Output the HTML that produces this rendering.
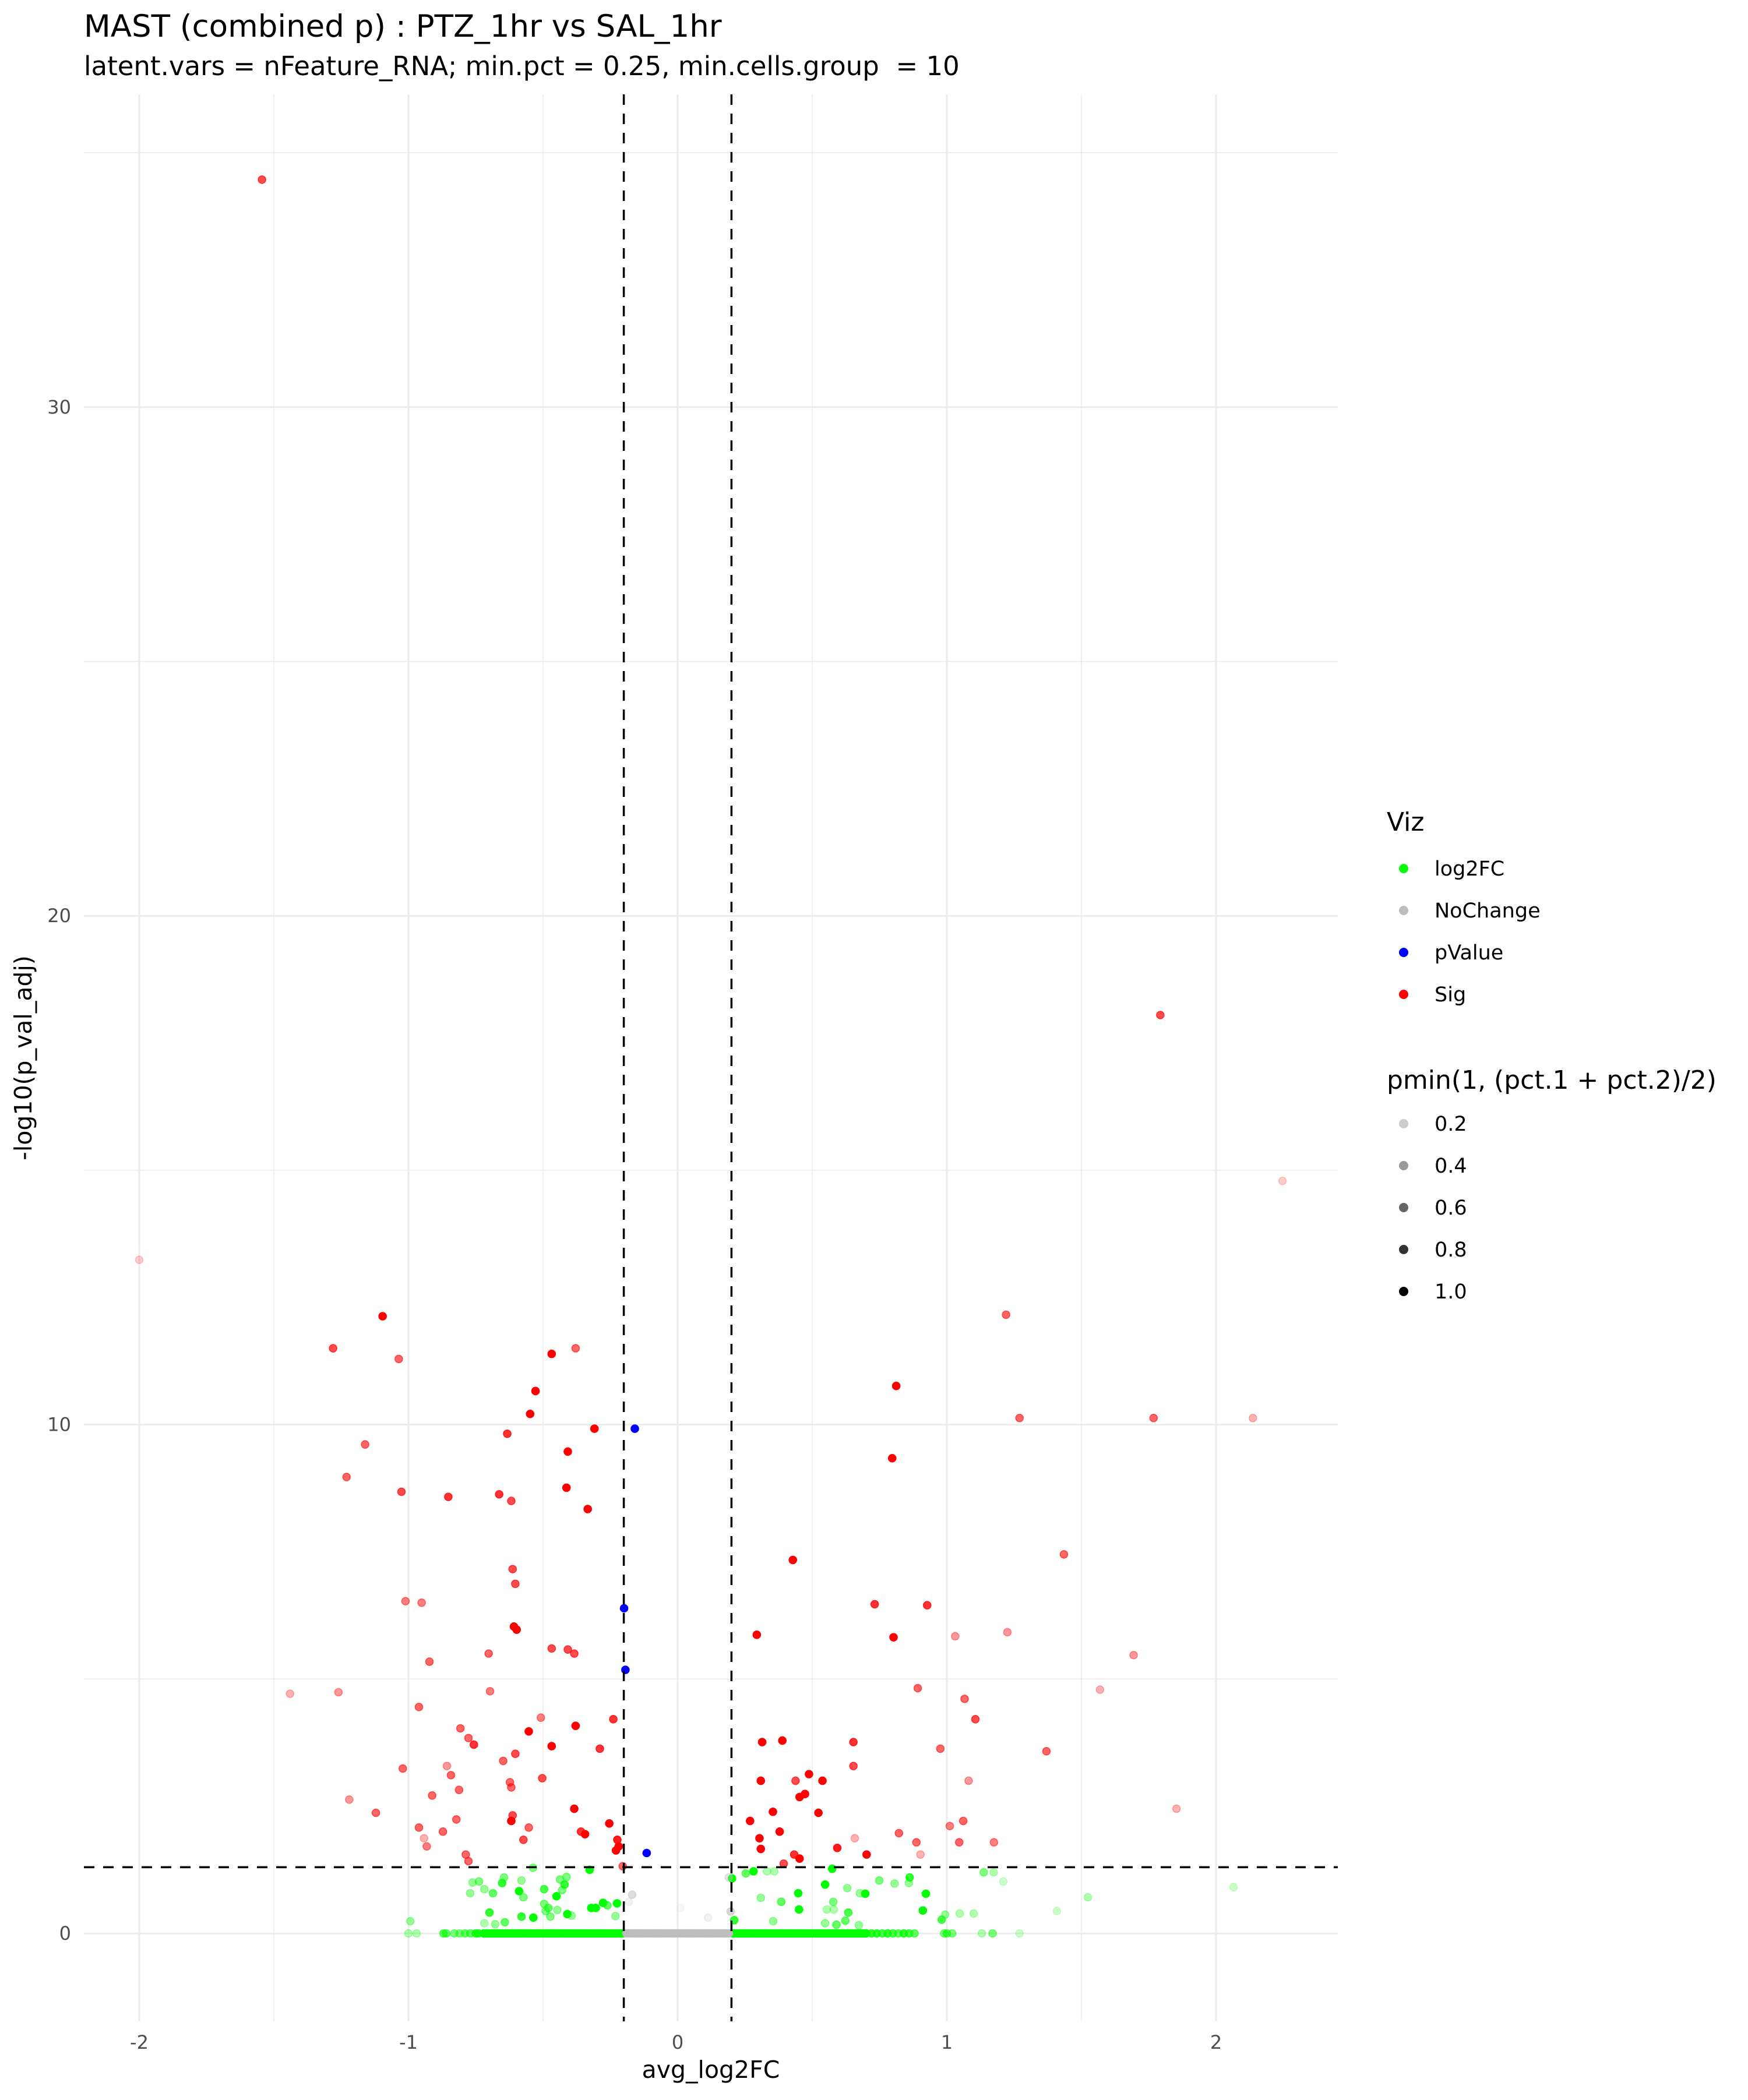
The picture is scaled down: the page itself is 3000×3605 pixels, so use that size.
<!DOCTYPE html>
<html><head><meta charset="utf-8"><style>
html,body{margin:0;padding:0;background:#fff;}
svg text{font-family:"DejaVu Sans","Liberation Sans",sans-serif;}
</style></head><body>
<svg id="chart" xmlns="http://www.w3.org/2000/svg" width="3000" height="3600" viewBox="0 0 3000 3600">
<rect width="3000" height="3600" fill="#fff"/>
<text x="144" y="63" font-size="53" fill="#000">MAST (combined p) : PTZ_1hr vs SAL_1hr</text>
<text x="144" y="129" font-size="45" fill="#000" style="white-space:pre">latent.vars = nFeature_RNA; min.pct = 0.25, min.cells.group  = 10</text>
<g id="grid"></g>
<g id="points"></g>
<g id="refs"></g>
<g id="axes"></g>
<text x="1220" y="3567" font-size="41" text-anchor="middle" fill="#000">avg_log2FC</text>
<text transform="translate(54,1816) rotate(-90)" font-size="41" text-anchor="middle" fill="#000">-log10(p_val_adj)</text>
<g id="legend"></g>
</svg>
<script>
const xTicks=[-2,-1,0,1,2];
const xTickLabels=["-2","-1","0","1","2"];
const xMinor=[-1.5,-0.5,0.5,1.5];
const yTicks=[0,10,20,30];
const yTickLabels=["0","10","20","30"];
const yMinor=[5,15,25,35];
const fcCut=[-0.2,0.2];
const pCut=[1.301];

const sigX=[-1.544,1.793,2.247,-2.0,-1.096,1.22,-1.28,-1.036,-0.468,-0.379,-0.528,0.812,-0.548,1.27,1.768,2.137,-0.633,-0.309,-1.161,-0.408,0.797,-1.23,-1.026,-0.413,-0.852,-0.663,-0.618,-0.334,1.435,0.428,-0.613,-0.603,-1.011,-0.951,0.732,0.927,-0.608,-0.598,0.294,0.802,1.031,1.225,-0.468,-0.408,-0.384,-0.702,1.694,-0.922,-1.44,-1.26,-0.697,1.569,0.892,1.066,-0.961,-0.508,-0.239,1.106,-0.379,-0.807,-0.553,-0.777,-0.757,0.314,0.389,0.653,-0.468,-0.289,-0.603,0.976,1.37,-0.648,0.653,-0.857,-1.021,-0.842,-0.503,-0.623,0.309,0.438,0.538,0.488,-0.618,1.081,-0.812,-0.912,-1.22,0.453,0.473,0.354,0.523,-0.384,-0.613,-1.121,1.853,-0.822,-0.618,-0.254,0.269,1.061,1.011,-0.961,-0.553,-0.872,-0.359,-0.344,0.379,0.822,0.658,-0.942,0.304,-0.224,-0.573,0.887,1.046,1.175,-0.932,-0.219,0.309,0.593,-0.229,0.902,0.702,-0.787,0.433,0.453,0.394,-0.777,-0.204];
const sigY=[34.47,18.05,14.79,13.24,12.13,12.16,11.5,11.29,11.39,11.5,10.66,10.76,10.21,10.13,10.13,10.13,9.82,9.92,9.61,9.47,9.34,8.97,8.68,8.76,8.58,8.63,8.5,8.34,7.45,7.34,7.16,6.87,6.53,6.5,6.47,6.45,6.03,5.97,5.87,5.82,5.84,5.92,5.6,5.58,5.5,5.5,5.47,5.34,4.71,4.74,4.76,4.79,4.82,4.61,4.45,4.24,4.21,4.21,4.08,4.03,3.97,3.84,3.71,3.76,3.79,3.76,3.68,3.63,3.53,3.63,3.58,3.39,3.29,3.29,3.24,3.11,3.05,2.97,3.0,3.0,3.0,3.13,2.87,3.0,2.82,2.71,2.63,2.68,2.74,2.39,2.37,2.45,2.32,2.37,2.45,2.24,2.21,2.16,2.21,2.21,2.11,2.08,2.08,2.0,2.0,1.95,2.0,1.97,1.87,1.87,1.87,1.84,1.84,1.79,1.79,1.79,1.71,1.71,1.66,1.68,1.63,1.55,1.55,1.55,1.55,1.47,1.37,1.42,1.32];
const sigA=[0.7,0.7,0.2,0.2,1,0.6,0.7,0.6,1,0.6,1,1,1,0.6,0.6,0.3,0.8,1,0.6,1,1,0.6,0.7,1,0.8,0.8,0.7,1,0.6,1,0.7,0.7,0.5,0.5,0.8,0.8,1,1,1,1,0.4,0.4,0.7,0.7,0.7,0.6,0.4,0.6,0.3,0.4,0.5,0.3,0.6,0.6,0.6,0.5,0.8,0.7,1,0.6,1,0.6,0.8,1,1,0.8,1,0.8,0.7,0.6,0.6,0.6,0.7,0.4,0.6,0.6,0.7,0.6,1,0.7,1,1,0.6,0.4,0.6,0.6,0.4,1,1,1,1,1,0.7,0.6,0.3,0.6,1,1,1,0.6,0.5,0.6,0.6,0.6,0.8,1,1,0.6,0.3,0.3,1,0.9,0.7,0.6,0.6,0.5,0.5,1,1,0.9,1,0.3,1,0.6,0.8,1,0.7,0.6,0.6];

const pvX=[-0.159,-0.199,-0.194,-0.115];
const pvY=[9.92,6.39,5.18,1.58];
const pvA=[1,1,1,1];

const fcX=[-0.537,-0.327,-0.645,-0.738,-0.762,-0.652,-0.58,-0.437,-0.413,-0.42,-0.718,-0.589,-0.496,-0.429,-0.771,-0.686,-0.573,-0.45,-0.496,-0.48,-0.277,-0.225,-0.261,-0.321,-0.304,-0.699,-0.49,-0.447,-0.41,-0.394,-0.58,-0.536,-0.642,-0.718,-0.678,-0.473,-0.231,-0.993,0.202,0.253,0.282,0.332,0.359,0.574,1.137,1.174,0.862,0.749,0.806,0.859,0.548,0.63,1.21,2.065,0.677,0.697,0.448,0.922,0.309,0.385,0.578,1.524,0.451,0.554,0.58,0.634,0.911,0.994,1.048,1.1,1.409,0.981,0.21,0.355,0.548,0.623,0.59,0.673];
const fcY=[1.29,1.25,1.1,1.02,1.0,0.99,1.04,1.06,1.11,0.96,0.87,0.83,0.87,0.85,0.79,0.79,0.71,0.73,0.58,0.5,0.6,0.59,0.55,0.5,0.5,0.41,0.44,0.46,0.38,0.35,0.33,0.31,0.22,0.2,0.18,0.33,0.34,0.24,1.08,1.18,1.22,1.22,1.22,1.27,1.2,1.2,1.1,1.04,0.98,0.99,0.96,0.89,1.02,0.91,0.79,0.78,0.79,0.78,0.7,0.62,0.62,0.71,0.47,0.47,0.47,0.41,0.45,0.37,0.39,0.39,0.44,0.27,0.26,0.24,0.2,0.25,0.17,0.16];
const fcA=[0.5,1,0.5,0.5,0.4,0.8,0.4,0.5,0.5,0.8,0.4,1,0.7,0.5,0.4,0.6,0.5,1,0.5,0.6,1,1,0.6,1,1,0.8,0.5,0.4,1,0.4,0.8,1,0.6,0.3,0.4,0.5,0.4,0.4,1,0.6,1,0.3,0.3,1,0.5,0.3,0.8,0.5,0.4,0.4,1,0.4,0.2,0.2,0.4,1,1,1,0.4,0.6,0.5,0.3,1,0.3,0.3,0.7,1,0.4,0.3,0.3,0.2,0.7,0.8,0.4,0.4,0.6,0.6,0.4];

const ncX=[-0.169,-0.182,0.01,0.113,0.197,0.19];
const ncY=[0.76,0.62,0.5,0.31,0.43,1.1];
const ncA=[0.5,0.2,0.1,0.2,0.6,0.4];

const zeroFcX=[-1.0,-0.97,-0.87,-0.86,-0.83,-0.81,-0.79,-0.77,-0.75,-0.74,-0.72,-0.71,-0.7,-0.69,-0.68,-0.67,-0.66,-0.65,-0.64,-0.63,-0.62,-0.61,-0.6,-0.59,-0.58,-0.57,-0.56,-0.55,-0.54,-0.53,-0.52,-0.51,-0.5,-0.49,-0.48,-0.47,-0.46,-0.45,-0.44,-0.43,-0.42,-0.41,-0.4,-0.39,-0.38,-0.37,-0.36,-0.35,-0.34,-0.33,-0.32,-0.31,-0.3,-0.29,-0.28,-0.27,-0.26,-0.25,-0.24,-0.23,-0.22,-0.21,-0.205,0.205,0.21,0.22,0.23,0.24,0.25,0.26,0.27,0.28,0.29,0.3,0.31,0.32,0.33,0.34,0.35,0.36,0.37,0.38,0.39,0.4,0.41,0.42,0.43,0.44,0.45,0.46,0.47,0.48,0.49,0.5,0.51,0.52,0.53,0.54,0.55,0.56,0.57,0.58,0.59,0.6,0.61,0.62,0.63,0.64,0.65,0.66,0.67,0.68,0.69,0.7,0.72,0.74,0.76,0.78,0.8,0.82,0.84,0.86,0.88,0.99,1.0,1.02,1.13,1.17,1.27];
const zeroFcA=[0.3,0.3,0.6,0.6,0.5,0.5,0.6,0.6,0.8,0.8,1,1,1,1,1,1,1,1,1,1,1,1,1,1,1,1,1,1,1,1,1,1,1,1,1,1,1,1,1,1,1,1,1,1,1,1,1,1,1,1,1,1,1,1,1,1,1,1,1,1,1,1,1,1,1,1,1,1,1,1,1,1,1,1,1,1,1,1,1,1,1,1,1,1,1,1,1,1,1,1,1,1,1,1,1,1,1,1,1,1,1,1,1,1,1,1,1,1,1,1,1,1,1,1,0.8,0.8,0.7,0.8,0.7,0.6,0.8,0.7,0.6,0.5,0.6,0.5,0.3,0.5,0.2];
const zeroNcX=[-0.19,-0.18,-0.17,-0.16,-0.15,-0.14,-0.13,-0.12,-0.11,-0.1,-0.09,-0.08,-0.07,-0.06,-0.05,-0.04,-0.03,-0.02,-0.01,0,0.01,0.02,0.03,0.04,0.05,0.06,0.07,0.08,0.09,0.1,0.11,0.12,0.13,0.14,0.15,0.16,0.17,0.18,0.19];

const legendCats=["log2FC","NoChange","pValue","Sig"];
const legendColors=["#00ff00","#bebebe","#0000ff","#ff0000"];
const alphaLevels=[0.2,0.4,0.6,0.8,1.0];
const alphaLabels=["0.2","0.4","0.6","0.8","1.0"];

const NS="http://www.w3.org/2000/svg";
const PX0=144,PX1=2296,PY0=162,PY1=3470;
function sx(v){return 1163+462*v;}
function sy(v){return 3319-87.34*v;}
function mk(tag,attrs,parent){const e=document.createElementNS(NS,tag);for(const k in attrs)e.setAttribute(k,attrs[k]);parent.appendChild(e);return e;}
function op(a){return a;}

const grid=document.getElementById('grid');
xMinor.forEach(v=>{const l=mk('line',{x1:sx(v),x2:sx(v),y1:PY0,y2:PY1,stroke:'#ebebeb','stroke-width':1.4},grid);

});
yMinor.forEach(v=>{const l=mk('line',{x1:PX0,x2:PX1,y1:sy(v),y2:sy(v),stroke:'#ebebeb','stroke-width':1.4},grid);

});
xTicks.forEach(v=>{const l=mk('line',{x1:sx(v),x2:sx(v),y1:PY0,y2:PY1,stroke:'#ebebeb','stroke-width':2.8},grid);

});
yTicks.forEach(v=>{const l=mk('line',{x1:PX0,x2:PX1,y1:sy(v),y2:sy(v),stroke:'#ebebeb','stroke-width':2.8},grid);

});

const pts=document.getElementById('points');
function drawSet(xs,ys,as,color,name){
  for(let i=0;i<xs.length;i++){
    const a=op(as?as[i]:1);
    const c=mk('circle',{cx:sx(xs[i]),cy:sy(ys?ys[i]:0),r:6.5,fill:color,'fill-opacity':a,stroke:color,'stroke-opacity':a,'stroke-width':1.6},pts);
    
    
  }
}
drawSet(zeroFcX,null,zeroFcA,'#00ff00','point-log2fc');
drawSet(zeroNcX,null,null,'#bebebe','point-nochange');
drawSet(fcX,fcY,fcA,'#00ff00','point-log2fc');
drawSet(ncX,ncY,ncA,'#bebebe','point-nochange');
drawSet(pvX,pvY,pvA,'#0000ff','point-pvalue');
drawSet(sigX,sigY,sigA,'#ff0000','point-sig');

const refs=document.getElementById('refs');
fcCut.forEach(v=>{const l=mk('line',{x1:sx(v),x2:sx(v),y1:PY0,y2:PY1,stroke:'#000','stroke-width':3.5,'stroke-dasharray':'18 15'},refs);

});
pCut.forEach(v=>{const l=mk('line',{x1:PX0,x2:PX1,y1:sy(v),y2:sy(v),stroke:'#000','stroke-width':3.5,'stroke-dasharray':'18 15'},refs);

});

const axes=document.getElementById('axes');
xTicks.forEach((v,i)=>{const t=mk('text',{x:sx(v),y:3517,'font-size':32,'text-anchor':'middle',fill:'#4d4d4d'},axes);t.textContent=xTickLabels[i];

});
yTicks.forEach((v,i)=>{const t=mk('text',{x:122,y:sy(v)+11,'font-size':32,'text-anchor':'end',fill:'#4d4d4d'},axes);t.textContent=yTickLabels[i];

});

const lg=document.getElementById('legend');
let t=mk('text',{x:2380,y:1426,'font-size':44,fill:'#000'},lg);t.textContent='Viz';


legendCats.forEach((c,i)=>{const y=1491+72*i;
  const d=mk('circle',{cx:2409,cy:y,r:8,fill:legendColors[i]},lg);
  
  
  const tt=mk('text',{x:2462,y:y+12,'font-size':35,fill:'#000'},lg);tt.textContent=c;
  
  });
t=mk('text',{x:2380,y:1869,'font-size':44,fill:'#000'},lg);t.textContent='pmin(1, (pct.1 + pct.2)/2)';


alphaLevels.forEach((a,i)=>{const y=1929+72*i;
  const d=mk('circle',{cx:2409,cy:y,r:8,fill:'#000','fill-opacity':op(a)},lg);
  
  
  const tt=mk('text',{x:2462,y:y+12,'font-size':35,fill:'#000'},lg);tt.textContent=alphaLabels[i];
  
  });
</script>
</body></html>
